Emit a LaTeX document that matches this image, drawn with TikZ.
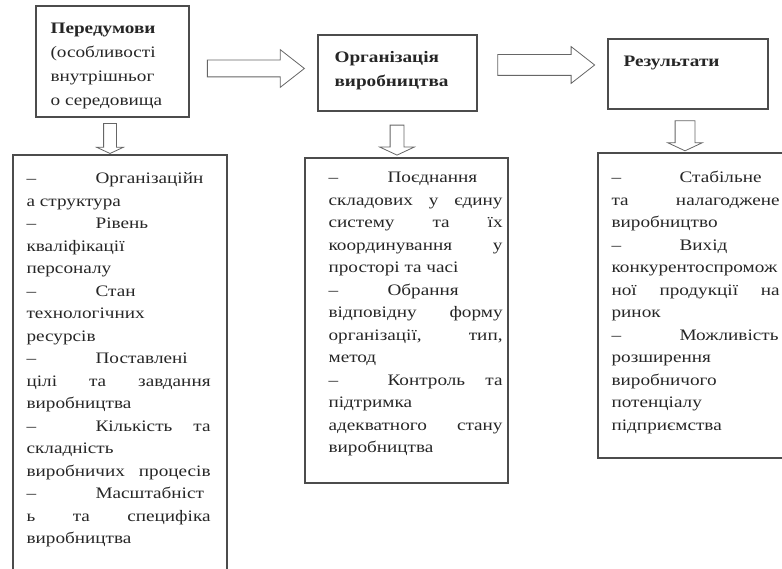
\documentclass[tikz,border=0pt]{standalone}
\usepackage{fontspec}
\setmainfont{Liberation Serif}[FakeStretch=1.2]
\usetikzlibrary{positioning,shapes.arrows}

\newlength{\colw}
\newlength{\tabw}
\newcommand{\jl}[1]{\makebox[\colw][s]{#1}}
\newcommand{\itm}[1]{\makebox[\tabw][l]{–}#1}

\tikzset{
	box/.style={rectangle,draw=black!70,line width=1.2pt,inner sep=0pt},
	head/.style={align=left,inner sep=0pt,text=black!85,font=\fontsize{16}{24}\selectfont},
	list/.style={align=left,inner sep=0pt,text=black!85,font=\fontsize{16}{22.5}\selectfont},
	cols/.style 2 args={/utils/exec={\setlength{\colw}{#1}\setlength{\tabw}{#2}}},
	rarrow/.style={single arrow,draw=black!60,fill=white,line width=0.8pt,inner xsep=0pt,
		minimum height=97pt,single arrow tip angle=76},
	darrow/.style={single arrow,draw=black!60,fill=white,line width=0.8pt,inner xsep=0pt,
		minimum height=30pt,single arrow tip angle=130,rotate=-90}
}

\begin{document}
\begin{tikzpicture}[x=1pt,y=-1pt]
	\clip (0,0) rectangle (782,569);

	% top row
	\node[box,minimum width=153pt,minimum height=111pt] (pre) at (112.5,61.5) {};
	\node[box,minimum width=159pt,minimum height=76pt] (org) at (397.5,73) {};
	\node[box,minimum width=160pt,minimum height=70pt] (res) at (688,74) {};

	\node[head,anchor=north west,below right=11.2pt and 15pt of pre.north west] (preText)
		{\strut\textbf{Передумови}\\(особливості\\внутрішньог\\о середовища};
	\node[head,anchor=north west,below right=11.2pt and 17pt of org.north west] (orgText)
		{\strut\textbf{Організація}\\\textbf{виробництва}};
	\node[head,anchor=north west,below right=11.2pt and 16pt of res.north west] (resText)
		{\strut\textbf{Результати}};

	\node[rarrow,inner ysep=8pt,single arrow head extend=10.5pt] (a1) at (250.5,68.5) {};
	\node[rarrow,inner ysep=10pt,single arrow head extend=8pt] (a2) at (539.5,65) {};

	% bottom row
	\node[box,minimum width=214pt,minimum height=435pt] (preList) at (120,372.5) {};
	\node[box,minimum width=203pt,minimum height=325pt] (orgList) at (406.5,320.5) {};
	\node[box,minimum width=197pt,minimum height=305pt] (resList) at (696.5,305.5) {};

	\node[darrow,inner ysep=6pt,single arrow head extend=7pt] (dA) at (110,137) {};
	\node[darrow,inner ysep=6.5pt,single arrow head extend=10.5pt] (dB) at (397,138.5) {};
	\node[darrow,inner ysep=9.5pt,single arrow head extend=7.5pt] (dC) at (685,133.5) {};

	\node[list,cols={184pt}{69pt},anchor=north west,below right=13.25pt and 14pt of preList.north west] (preItems)
		{\strut\itm{Організаційн}\\
		а структура\\
		\itm{Рівень}\\
		кваліфікації\\
		персоналу\\
		\itm{Стан}\\
		технологічних\\
		ресурсів\\
		\itm{Поставлені}\\
		\jl{цілі та завдання}\\
		виробництва\\
		\jl{\itm{Кількість та}}\\
		складність\\
		\jl{виробничих процесів}\\
		\itm{Масштабніст}\\
		\jl{ь та специфіка}\\
		виробництва};

	\node[list,cols={174pt}{59pt},anchor=north west,below right=9.25pt and 24pt of orgList.north west] (orgItems)
		{\strut\itm{Поєднання}\\
		\jl{складових у єдину}\\
		\jl{систему та їх}\\
		\jl{координування у}\\
		просторі та часі\\
		\itm{Обрання}\\
		\jl{відповідну форму}\\
		\jl{організації, тип,}\\
		метод\\
		\jl{\itm{Контроль та}}\\
		підтримка\\
		\jl{адекватного стану}\\
		виробництва};

	\node[list,cols={168pt}{68pt},anchor=north west,below right=14.25pt and 14pt of resList.north west] (resItems)
		{\strut\itm{Стабільне}\\
		\jl{та налагоджене}\\
		виробництво\\
		\itm{Вихід}\\
		конкурентоспромож\\
		\jl{ної продукції на}\\
		ринок\\
		\itm{Можливість}\\
		розширення\\
		виробничого\\
		потенціалу\\
		підприємства};
\end{tikzpicture}
\end{document}
